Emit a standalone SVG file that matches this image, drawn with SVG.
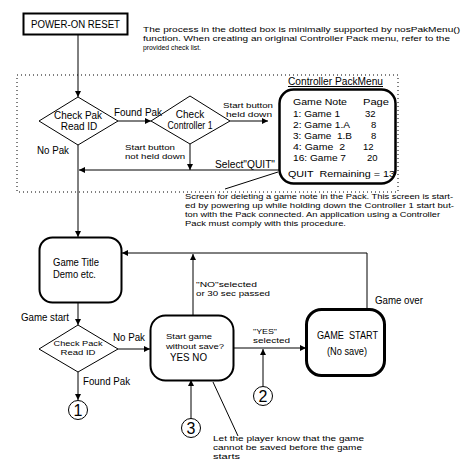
<svg xmlns="http://www.w3.org/2000/svg" width="462" height="472" viewBox="0 0 462 472">
<defs>
<marker id="ah" viewBox="0 0 6 6" refX="6" refY="3" markerWidth="6" markerHeight="6" orient="auto" markerUnits="userSpaceOnUse">
<path d="M0,0 L6,3 L0,6 z" fill="#000"/>
</marker>
</defs>
<style>
text{font-family:"Liberation Sans",Arial,sans-serif;font-size:10px;fill:#000;white-space:pre}
.s8{font-size:8px}
.m{font-size:9.5px}
.c{text-anchor:middle}
.ln{stroke:#000;stroke-width:1;fill:none}
.dia{fill:#fff;stroke:#000;stroke-width:1}
.box{fill:#fff;stroke:#000}
.num{font-size:16px;text-anchor:middle}
</style>
<rect width="462" height="472" fill="#fff"/>

<!-- dotted region -->
<rect x="17" y="75" width="381" height="117" fill="none" stroke="#000" stroke-width="1" stroke-dasharray="1,3"/>

<g id="connectors">
<line class="ln" x1="78" y1="35" x2="78" y2="97" marker-end="url(#ah)"/>
<line class="ln" x1="118" y1="121" x2="151" y2="121" marker-end="url(#ah)"/>
<line class="ln" x1="230" y1="121" x2="268" y2="121" marker-end="url(#ah)"/>
<line class="ln" x1="190" y1="144" x2="190" y2="170" marker-end="url(#ah)"/>
<line class="ln" x1="279" y1="170" x2="79" y2="170" marker-end="url(#ah)"/>
<line class="ln" x1="78" y1="145" x2="78" y2="237" marker-end="url(#ah)"/>
<line class="ln" x1="278" y1="172" x2="225" y2="189"/>
<polyline class="ln" points="367,309 367,253 122,253" marker-end="url(#ah)"/>
<line class="ln" x1="193" y1="315" x2="193" y2="254" marker-end="url(#ah)"/>
<line class="ln" x1="78" y1="302" x2="78" y2="325" marker-end="url(#ah)"/>
<line class="ln" x1="118" y1="349" x2="150" y2="349" marker-end="url(#ah)"/>
<line class="ln" x1="233" y1="348" x2="306" y2="348" marker-end="url(#ah)"/>
<line class="ln" x1="263" y1="386" x2="263" y2="349" marker-end="url(#ah)"/>
<line class="ln" x1="78" y1="372" x2="78" y2="400" marker-end="url(#ah)"/>
<line class="ln" x1="191" y1="419" x2="191" y2="380" marker-end="url(#ah)"/>
<line class="ln" x1="213" y1="382" x2="238" y2="436"/>
</g>

<g id="power-on-reset">
<rect class="box" x="23.5" y="13.5" width="104" height="21" stroke-width="2"/>
<text x="75.5" y="27.5" class="c" textLength="89" lengthAdjust="spacingAndGlyphs">POWER-ON RESET</text>
</g>

<g id="note-top">
<text class="s8" x="143" y="32" textLength="317" lengthAdjust="spacingAndGlyphs">The process in the dotted box is minimally supported by nosPakMenu()</text>
<text class="s8" x="143" y="41" textLength="307" lengthAdjust="spacingAndGlyphs">function. When creating an original Controller Pack menu, refer to the</text>
<text class="s8" x="143" y="50" textLength="58" lengthAdjust="spacingAndGlyphs">provided check list.</text>
</g>

<g id="check-pak-1">
<polygon class="dia" points="78,97 118,121 78,145 39,121"/>
<text x="78" y="119" class="c" textLength="48" lengthAdjust="spacingAndGlyphs">Check Pak</text>
<text x="79" y="130" class="c">Read ID</text>
</g>

<g id="check-controller">
<polygon class="dia" points="190,96 230,121 190,144 151,121"/>
<text x="190" y="118" class="c">Check</text>
<text x="190" y="129" class="c" textLength="45" lengthAdjust="spacingAndGlyphs">Controller 1</text>
</g>

<g id="labels-top">
<text x="114" y="116" textLength="48" lengthAdjust="spacingAndGlyphs">Found Pak</text>
<text class="s8" x="223" y="108" textLength="50" lengthAdjust="spacingAndGlyphs">Start button</text>
<text class="s8" x="226" y="117" textLength="46" lengthAdjust="spacingAndGlyphs">held down</text>
<text class="s8" x="125" y="150" textLength="50" lengthAdjust="spacingAndGlyphs">Start button</text>
<text class="s8" x="125" y="159" textLength="60" lengthAdjust="spacingAndGlyphs">not held down</text>
<text x="37" y="154" textLength="32" lengthAdjust="spacingAndGlyphs">No Pak</text>
<text x="215" y="168" textLength="60" lengthAdjust="spacingAndGlyphs">Select"QUIT"</text>
</g>

<g id="controller-pack-menu">
<text x="288" y="85" textLength="95" lengthAdjust="spacingAndGlyphs" text-decoration="underline">Controller PackMenu</text>
<rect class="box" x="279.5" y="89.5" width="116" height="94" rx="14" stroke-width="2.5"/>
<text class="m" x="293" y="105" textLength="54" lengthAdjust="spacingAndGlyphs">Game Note</text>
<text class="m" x="363" y="105" textLength="26" lengthAdjust="spacingAndGlyphs">Page</text>
<text class="m" x="293" y="117" textLength="47" lengthAdjust="spacingAndGlyphs">1: Game 1</text>
<text class="m" x="365" y="117">32</text>
<text class="m" x="293" y="128" textLength="57" lengthAdjust="spacingAndGlyphs">2: Game 1.A</text>
<text class="m" x="371" y="128">8</text>
<text class="m" x="293" y="139" textLength="59" lengthAdjust="spacingAndGlyphs">3: Game  1.B</text>
<text class="m" x="371" y="139">8</text>
<text class="m" x="293" y="150" textLength="52" lengthAdjust="spacingAndGlyphs">4: Game  2</text>
<text class="m" x="363" y="150">12</text>
<text class="m" x="293" y="161" textLength="53" lengthAdjust="spacingAndGlyphs">16: Game 7</text>
<text class="m" x="367" y="161">20</text>
<text class="m" x="288" y="177" textLength="107" lengthAdjust="spacingAndGlyphs">QUIT  Remaining = 13</text>
</g>

<g id="note-screen">
<text class="s8" x="185" y="199" textLength="268" lengthAdjust="spacingAndGlyphs">Screen for deleting a game note in the Pack. This screen is start-</text>
<text class="s8" x="185" y="208" textLength="269" lengthAdjust="spacingAndGlyphs">ed by powering up while holding down the Controller 1 start but-</text>
<text class="s8" x="185" y="217" textLength="255" lengthAdjust="spacingAndGlyphs">ton with the Pack connected. An application using a Controller</text>
<text class="s8" x="185" y="226" textLength="161" lengthAdjust="spacingAndGlyphs">Pack must comply with this procedure.</text>
</g>

<g id="game-title">
<rect class="box" x="39.5" y="237.5" width="82" height="65" rx="13" stroke-width="2"/>
<text x="53" y="266" textLength="46" lengthAdjust="spacingAndGlyphs">Game Title</text>
<text x="53" y="278" textLength="43" lengthAdjust="spacingAndGlyphs">Demo etc.</text>
</g>

<g id="labels-mid">
<text class="s8" x="196" y="287" textLength="61" lengthAdjust="spacingAndGlyphs">"NO"selected</text>
<text class="s8" x="196" y="296" textLength="74" lengthAdjust="spacingAndGlyphs">or 30 sec passed</text>
<text x="375" y="304" textLength="48" lengthAdjust="spacingAndGlyphs">Game over</text>
<text x="21" y="321" textLength="48" lengthAdjust="spacingAndGlyphs">Game start</text>
<text x="113" y="341" textLength="32" lengthAdjust="spacingAndGlyphs">No Pak</text>
<text class="s8" x="253" y="334" textLength="24" lengthAdjust="spacingAndGlyphs">"YES"</text>
<text class="s8" x="253" y="343" textLength="37" lengthAdjust="spacingAndGlyphs">selected</text>
<text x="83" y="385" textLength="47" lengthAdjust="spacingAndGlyphs">Found Pak</text>
</g>

<g id="check-pack-2">
<polygon class="dia" points="78,325 118,349 78,372 39,349"/>
<text class="s8 c" x="78" y="346" textLength="49" lengthAdjust="spacingAndGlyphs">Check Pack</text>
<text class="s8 c" x="78" y="355" textLength="35" lengthAdjust="spacingAndGlyphs">Read ID</text>
</g>

<g id="start-game-dialog">
<rect class="box" x="150.5" y="315.5" width="83" height="65" rx="15" stroke-width="2"/>
<text class="s8" x="166" y="339" textLength="46" lengthAdjust="spacingAndGlyphs">Start game</text>
<text class="s8" x="166" y="349" textLength="58" lengthAdjust="spacingAndGlyphs">without save?</text>
<text x="170" y="361" textLength="37" lengthAdjust="spacingAndGlyphs">YES NO</text>
</g>

<g id="game-start">
<rect class="box" x="306.5" y="309.5" width="78" height="66" rx="15" stroke-width="3"/>
<text x="317" y="339" textLength="61" lengthAdjust="spacingAndGlyphs">GAME  START</text>
<text x="327" y="355" textLength="40" lengthAdjust="spacingAndGlyphs">(No save)</text>
</g>

<g id="connector-1">
<circle cx="78" cy="410" r="9.5" fill="#fff" stroke="#000" stroke-width="1"/>
<text class="num" x="78" y="416">1</text>
</g>
<g id="connector-2">
<circle cx="263" cy="396" r="9.5" fill="#fff" stroke="#000" stroke-width="1"/>
<text class="num" x="263" y="402">2</text>
</g>
<g id="connector-3">
<circle cx="191" cy="428" r="9.5" fill="#fff" stroke="#000" stroke-width="1"/>
<text class="num" x="191" y="434">3</text>
</g>

<g id="note-bottom">
<text class="s8" x="213" y="441" textLength="151" lengthAdjust="spacingAndGlyphs">Let the player know that the game</text>
<text class="s8" x="213" y="450" textLength="149" lengthAdjust="spacingAndGlyphs">cannot be saved before the game</text>
<text class="s8" x="213" y="459" textLength="27" lengthAdjust="spacingAndGlyphs">starts</text>
</g>
</svg>
